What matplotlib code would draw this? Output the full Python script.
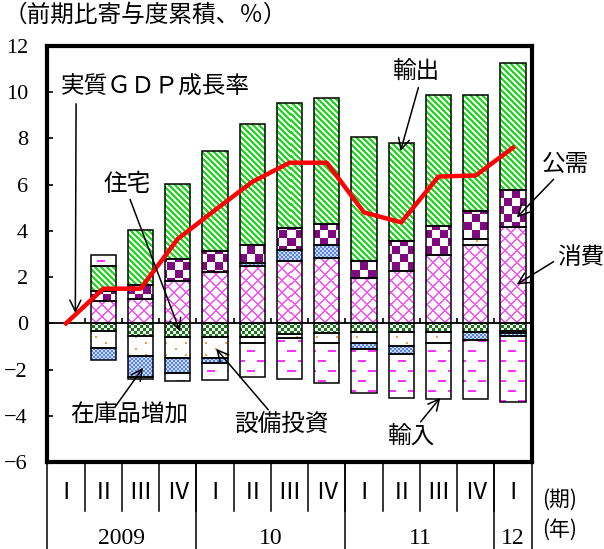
import numpy as np
import matplotlib.pyplot as plt
from matplotlib.path import Path
from matplotlib.colors import to_rgb

plt.rcParams['font.family'] = ['Noto Sans CJK JP', 'DejaVu Sans']

# 四半期・年ラベル
quarters = ['Ⅰ', 'Ⅱ', 'Ⅲ', 'Ⅳ', 'Ⅰ', 'Ⅱ', 'Ⅲ', 'Ⅳ', 'Ⅰ', 'Ⅱ', 'Ⅲ', 'Ⅳ', 'Ⅰ']
years = ['2009', '10', '11', '12']
year_quarters = [4, 4, 4, 1]

# 寄与度累積（％ポイント）
consumption = [0, 0.97, 1.04, 1.84, 2.22, 2.49, 2.71, 2.83, 1.94, 2.28, 2.97, 3.40, 4.16]
housing = [0, -0.32, -0.54, -0.61, -0.57, -0.57, -0.46, -0.42, -0.39, -0.39, -0.39, -0.36, -0.32]
investment = [0, -0.73, -0.86, -0.87, -0.91, -0.26, -0.18, -0.44, -0.47, -0.61, -0.47, 0.25, -0.10]
inventory = [0, -0.55, -0.92, -0.65, -0.24, 0.11, 0.48, 0.56, -0.26, -0.33, 0.0, -0.35, -0.12]
public = [0, 0.43, 0.61, 0.94, 0.90, 0.80, 0.92, 0.91, 0.77, 1.27, 1.26, 1.23, 1.62]
exports = [0, 1.09, 2.41, 3.26, 4.33, 5.22, 5.41, 5.44, 5.36, 4.26, 5.65, 5.00, 5.48]
imports = [0, 0.48, -0.11, -0.36, -0.73, -1.49, -1.75, -1.71, -1.88, -1.89, -2.40, -2.55, -2.86]
gdp = [0, 1.5, 1.5, 3.65, 4.9, 6.12, 6.95, 6.95, 4.8, 4.37, 6.35, 6.4, 7.6]

W, H = 484, 416  # axes size in pixels
rr, cc = np.mgrid[0:H, 0:W]


def paint(mask, fg, bg='white'):
    img = np.empty((H, W, 3))
    img[:] = to_rgb(bg)
    img[mask] = to_rgb(fg)
    return img


def checker(cell, fg, bg):
    return paint(((rr // cell + cc // cell) % 2) == 0, fg, bg)


band = rr // 10
dash_mask = (rr % 10 >= 4) & (rr % 10 < 6) & (((cc + (band % 2) * 10) % 20) < 8)
dband = rr // 6
dshift = (cc + (dband % 2) * 10) % 20
dot_mask = (rr % 6 >= 2) & (rr % 6 < 4) & (dshift >= 8) & (dshift < 10)

textures = {
    'consumption': paint(((rr + cc) % 12 < 2) | ((cc - rr) % 12 < 2), '#ff4dff'),
    'housing': checker(3, '#167a16', 'white'),
    'investment': paint(dot_mask, '#ff9a40'),
    'inventory': checker(2, '#5b84ea', '#c9d8ff'),
    'public': checker(8, '#7f0a80', 'white'),
    'exports': paint(((cc - rr) % 6) < 3, '#14e014'),
    'imports': paint(dash_mask, '#ff33ff'),
}

layers = [('consumption', consumption), ('housing', housing), ('investment', investment),
          ('inventory', inventory), ('public', public), ('exports', exports), ('imports', imports)]

fig = plt.figure(figsize=(6.04, 5.49), dpi=100)
ax = fig.add_axes([47.4 / 604, 1 - 462 / 549, 484.2 / 604, 416 / 549])

x = np.arange(len(quarters))
width = 0.68
pos = np.zeros(len(x))
neg = np.zeros(len(x))
for name, vals in layers:
    vals = np.array(vals, dtype=float)
    bottom = np.where(vals >= 0, pos, neg)
    keep = vals != 0
    paths = []
    for xi, b, h in zip(x[keep], bottom[keep], vals[keep]):
        paths.append(Path([(xi - width / 2, b), (xi + width / 2, b), (xi + width / 2, b + h),
                           (xi - width / 2, b + h), (xi - width / 2, b)],
                          [Path.MOVETO, Path.LINETO, Path.LINETO, Path.LINETO, Path.CLOSEPOLY]))
    im = ax.imshow(textures[name], extent=(-0.5, 12.5, -6, 12), origin='upper',
                   aspect='auto', interpolation='nearest', zorder=1)
    im.set_clip_path(Path.make_compound_path(*paths), transform=ax.transData)
    ax.bar(x[keep], vals[keep], width=width, bottom=bottom[keep], facecolor='none',
           edgecolor='black', linewidth=1.1, zorder=2)
    pos = pos + np.where(vals > 0, vals, 0)
    neg = neg + np.where(vals < 0, vals, 0)

ax.plot(x, gdp, color='#ff0000', linewidth=3.2, zorder=4)
ax.axhline(0, color='black', linewidth=1.3, zorder=3)
ax.vlines(np.arange(len(x) - 1) + 0.5, 0, 0.22, color='black', linewidth=1.2, zorder=3)

ax.set_xlim(-0.5, 12.5)
ax.set_ylim(-6, 12)
ax.set_xticks([])
ax.set_yticks(range(-6, 13, 2))
ax.tick_params(axis='y', direction='in', length=4, width=1.2, pad=14, labelsize=16)
for lab in ax.get_yticklabels():
    lab.set_fontfamily(['Liberation Serif', 'DejaVu Serif'])
for sp in ax.spines.values():
    sp.set_linewidth(3)

# 下の期・年の表
tr = ax.get_xaxis_transform()
for i, q in enumerate(quarters):
    ax.text(i, -0.073, q, transform=tr, ha='center', va='center', fontsize=17, clip_on=False)
for b in np.arange(len(x) - 1) + 0.5:
    ax.plot([b, b], [0, -0.117], transform=tr, color='black', linewidth=1.1, clip_on=False)
edges = np.concatenate([[0], np.cumsum(year_quarters)]) - 0.5
for e in edges:
    ax.plot([e, e], [0, -0.215], transform=tr, color='black', linewidth=1.1, clip_on=False)
for y, a, b in zip(years, edges[:-1], edges[1:]):
    ax.text((a + b) / 2, -0.185, y, transform=tr, ha='center', va='center', fontsize=17,
            family=['Liberation Serif', 'DejaVu Serif'], clip_on=False)
fig.text(0.897, 0.089, '(期)', ha='left', va='center', fontsize=15)
fig.text(0.897, 0.035, '(年)', ha='left', va='center', fontsize=15)

fig.text(0.006, 0.972, '（前期比寄与度累積、％）', ha='left', va='center', fontsize=17)

# 注記
arrow = dict(arrowstyle='->,head_length=0.8,head_width=0.4', color='black', lw=1.1,
             shrinkA=0, shrinkB=0)
notes = [
    ('実質ＧＤＰ成長率', (-0.13, 10.22), 'left', (0.27, 9.5), (0.25, 0.45)),
    ('住宅', (1.64, 6.01), 'center', (1.72, 5.36), (3.06, -0.35)),
    ('在庫品増加', (1.70, -3.96), 'center', (1.32, -3.61), (2.07, -1.92)),
    ('設備投資', (5.78, -4.39), 'center', (5.43, -3.74), (4.03, -1.10)),
    ('輸入', (9.25, -4.90), 'center', (9.52, -4.26), (10.05, -3.22)),
    ('輸出', (9.38, 10.92), 'center', (9.46, 10.2), (8.98, 7.45)),
    ('公需', (13.42, 6.88), 'center', (13.09, 6.23), (12.1, 4.58)),
    ('消費', (13.82, 2.85), 'center', (13.09, 2.67), (12.1, 1.68)),
]
for label, (tx, ty), ha, start, end in notes:
    ax.text(tx, ty, label, ha=ha, va='center', fontsize=17, zorder=6, clip_on=False)
    ax.annotate('', xy=end, xytext=start, arrowprops=arrow, zorder=6, annotation_clip=False)

fig.savefig('out.png', dpi=100)
